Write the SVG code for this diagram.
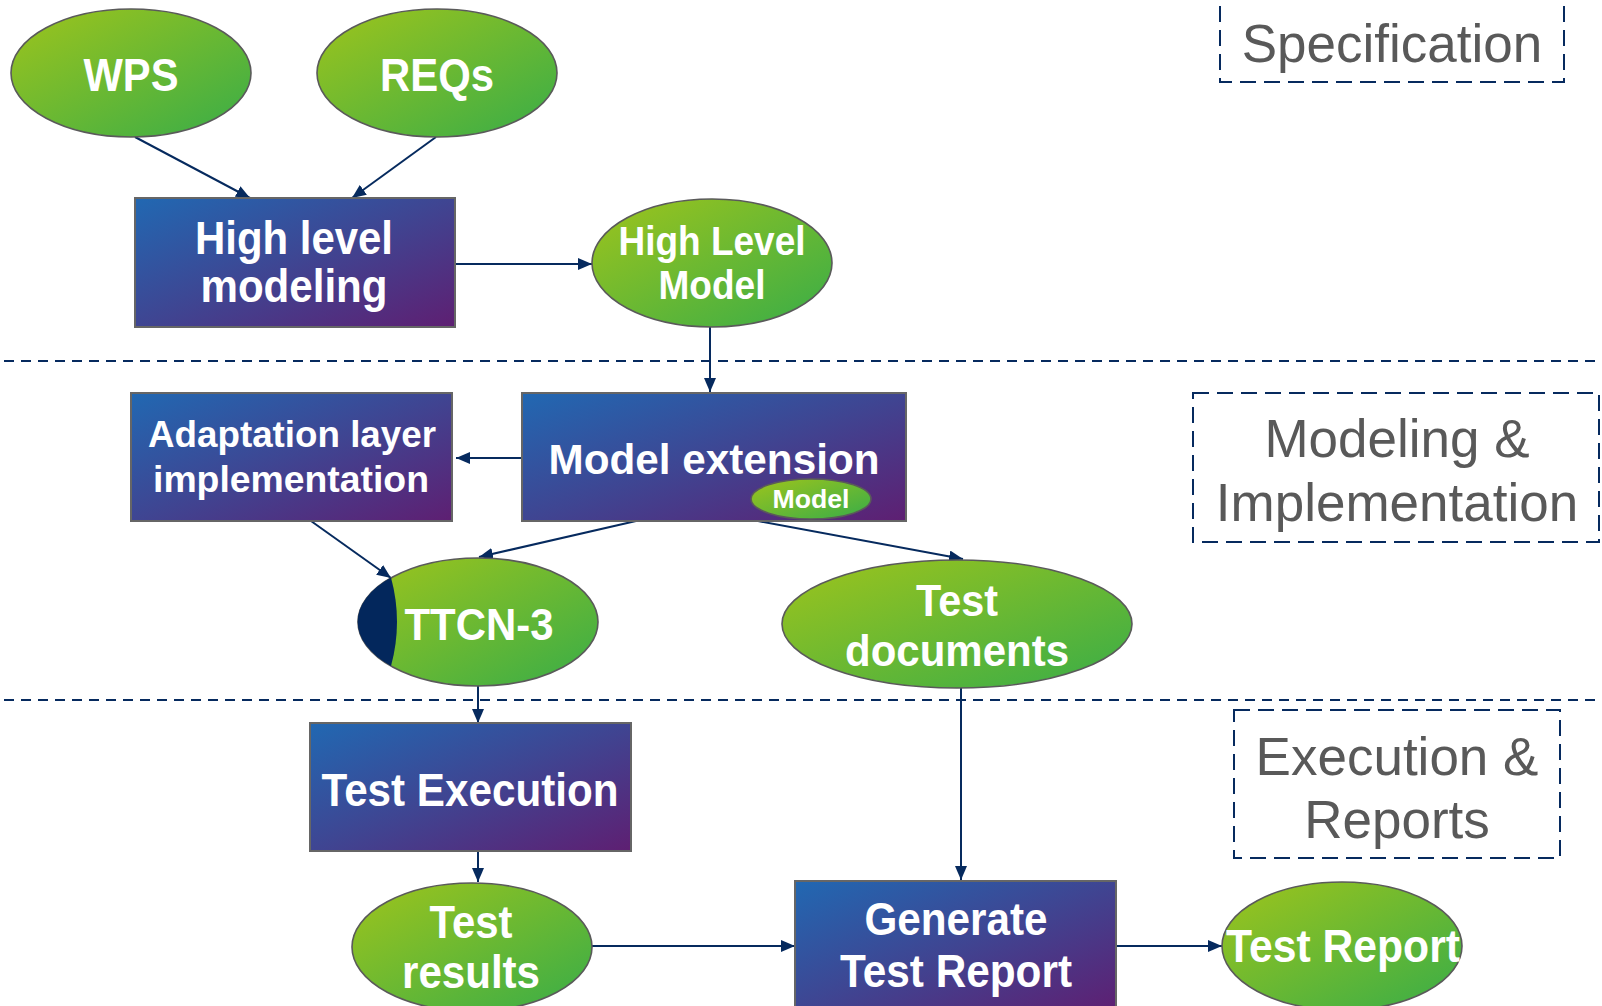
<svg xmlns="http://www.w3.org/2000/svg" width="1602" height="1006" viewBox="0 0 1602 1006">
<defs>
<linearGradient id="gBox" x1="0" y1="0" x2="1" y2="1">
<stop offset="0" stop-color="#2168b2"/>
<stop offset="0.5" stop-color="#3f4592"/>
<stop offset="1" stop-color="#5e1f72"/>
</linearGradient>
<linearGradient id="gEll" x1="0" y1="0" x2="1" y2="1">
<stop offset="0" stop-color="#9ec41c"/>
<stop offset="1" stop-color="#38ad48"/>
</linearGradient>
<marker id="arr" viewBox="0 0 14 12" markerWidth="14" markerHeight="12" refX="14" refY="6" orient="auto" markerUnits="userSpaceOnUse">
<path d="M0,0 L14,6 L0,12 Z" fill="#062a5e"/>
</marker>
</defs>
<style>
.box{fill:url(#gBox);stroke:#666;stroke-width:2}
.ell{fill:url(#gEll);stroke:#5a5a5a;stroke-width:1.6}
.t{font-family:"Liberation Sans",Arial,sans-serif;font-weight:bold;fill:#fff;text-anchor:middle}
.lbl{font-family:"Liberation Sans",Arial,sans-serif;font-size:53px;fill:#595959;text-anchor:middle}
.dash{fill:none;stroke:#062a5e;stroke-width:2;stroke-dasharray:10 7}
.dbox{fill:none;stroke:#062a5e;stroke-width:2;stroke-dasharray:16 8}
.c{fill:none;stroke:#062a5e;stroke-width:2;marker-end:url(#arr)}
</style>
<rect width="1602" height="1006" fill="#fff"/>

<g id="separators">
<line class="dash" x1="4" y1="361" x2="1602" y2="361"/>
<line class="dash" x1="4" y1="700" x2="1602" y2="700"/>
</g>

<g id="label-specification">
<rect class="dbox" x="1220" y="-10" width="344" height="92"/>
<text class="lbl" x="1392" y="62">Specification</text>
</g>
<g id="label-modeling">
<rect class="dbox" x="1193" y="393" width="406" height="149"/>
<text class="lbl" x="1397" y="457">Modeling &amp;</text>
<text class="lbl" x="1397" y="521">Implementation</text>
</g>
<g id="label-execution">
<rect class="dbox" x="1234" y="710" width="326" height="148"/>
<text class="lbl" x="1397" y="775">Execution &amp;</text>
<text class="lbl" x="1397" y="838">Reports</text>
</g>

<g id="connectors">
<line class="c" x1="135" y1="137" x2="250" y2="198"/>
<line class="c" x1="436" y1="137" x2="352" y2="198"/>
<line class="c" x1="455" y1="264" x2="592" y2="264"/>
<line class="c" x1="710" y1="327" x2="710" y2="392"/>
<line class="c" x1="522" y1="458" x2="456" y2="458"/>
<line class="c" x1="311" y1="521" x2="391" y2="578"/>
<line class="c" x1="636" y1="521" x2="479" y2="557"/>
<line class="c" x1="758" y1="521" x2="963" y2="559"/>
<line class="c" x1="478" y1="686" x2="478" y2="723"/>
<line class="c" x1="961" y1="688" x2="961" y2="880"/>
<line class="c" x1="478" y1="851" x2="478" y2="882"/>
<line class="c" x1="592" y1="946" x2="795" y2="946"/>
<line class="c" x1="1116" y1="946" x2="1222" y2="946"/>
</g>

<g id="wps">
<ellipse class="ell" cx="131" cy="73" rx="120" ry="64"/>
<text class="t" x="131" y="91" font-size="46" textLength="95" lengthAdjust="spacingAndGlyphs">WPS</text>
</g>
<g id="reqs">
<ellipse class="ell" cx="437" cy="73" rx="120" ry="64"/>
<text class="t" x="437" y="91" font-size="46" textLength="114" lengthAdjust="spacingAndGlyphs">REQs</text>
</g>
<g id="high-level-modeling">
<rect class="box" x="135" y="198" width="320" height="129"/>
<text class="t" x="294" y="254" font-size="46" textLength="198" lengthAdjust="spacingAndGlyphs">High level</text>
<text class="t" x="294" y="302" font-size="46" textLength="187" lengthAdjust="spacingAndGlyphs">modeling</text>
</g>
<g id="high-level-model">
<ellipse class="ell" cx="712" cy="263" rx="120" ry="64"/>
<text class="t" x="712" y="255" font-size="41" textLength="187" lengthAdjust="spacingAndGlyphs">High Level</text>
<text class="t" x="712" y="299" font-size="41" textLength="107" lengthAdjust="spacingAndGlyphs">Model</text>
</g>
<g id="adaptation-layer">
<rect class="box" x="131" y="393" width="321" height="128"/>
<text class="t" x="292" y="447" font-size="37" textLength="288" lengthAdjust="spacingAndGlyphs">Adaptation layer</text>
<text class="t" x="291" y="492" font-size="37" textLength="276" lengthAdjust="spacingAndGlyphs">implementation</text>
</g>
<g id="model-extension">
<rect class="box" x="522" y="393" width="384" height="128"/>
<text class="t" x="714" y="474" font-size="43" textLength="331" lengthAdjust="spacingAndGlyphs">Model extension</text>
<ellipse class="ell" cx="811" cy="499" rx="60" ry="20"/>
<text class="t" x="811" y="508" font-size="25" textLength="77" lengthAdjust="spacingAndGlyphs">Model</text>
</g>
<g id="ttcn3">
<ellipse class="ell" cx="478" cy="622" rx="120" ry="64"/>
<path d="M391,577.5 A120,64 0 0 0 391,666 Q403,622 391,577.5 Z" fill="#03275c"/>
<text class="t" x="479" y="640" font-size="44" textLength="149" lengthAdjust="spacingAndGlyphs">TTCN-3</text>
</g>
<g id="test-documents">
<ellipse class="ell" cx="957" cy="624" rx="175" ry="64"/>
<text class="t" x="957" y="616" font-size="44" textLength="82" lengthAdjust="spacingAndGlyphs">Test</text>
<text class="t" x="957" y="666" font-size="44" textLength="224" lengthAdjust="spacingAndGlyphs">documents</text>
</g>
<g id="test-execution">
<rect class="box" x="310" y="723" width="321" height="128"/>
<text class="t" x="470" y="806" font-size="46" textLength="297" lengthAdjust="spacingAndGlyphs">Test Execution</text>
</g>
<g id="test-results">
<ellipse class="ell" cx="472" cy="947" rx="120" ry="64"/>
<text class="t" x="471" y="938" font-size="46" textLength="83" lengthAdjust="spacingAndGlyphs">Test</text>
<text class="t" x="471" y="988" font-size="46" textLength="138" lengthAdjust="spacingAndGlyphs">results</text>
</g>
<g id="generate-test-report">
<rect class="box" x="795" y="881" width="321" height="130"/>
<text class="t" x="956" y="935" font-size="46" textLength="183" lengthAdjust="spacingAndGlyphs">Generate</text>
<text class="t" x="956" y="987" font-size="46" textLength="232" lengthAdjust="spacingAndGlyphs">Test Report</text>
</g>
<g id="test-report">
<ellipse class="ell" cx="1342" cy="946" rx="120" ry="64"/>
<text class="t" x="1343" y="962" font-size="46" textLength="234" lengthAdjust="spacingAndGlyphs">Test Report</text>
</g>
</svg>
